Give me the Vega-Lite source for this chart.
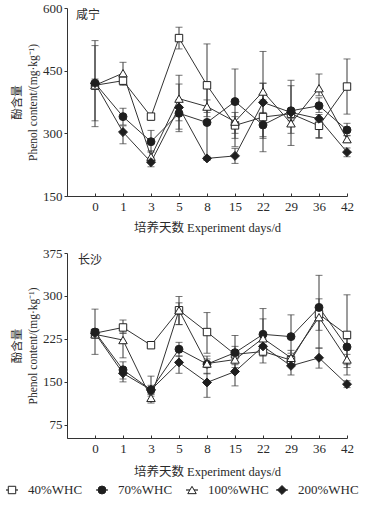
{
  "$schema": "https://vega.github.io/schema/vega-lite/v6.json",
  "padding": {"left": 3, "top": 2, "right": 3, "bottom": 3},
  "background": "white",
  "config": {
    "font": "Liberation Serif",
    "view": {"stroke": null},
    "axis": {"labelFont": "Liberation Serif", "labelFontSize": 13, "labelColor": "#2a2a2a", "titleFont": "Liberation Serif, Noto Sans CJK SC", "titleColor": "#2a2a2a", "titleFontWeight": "normal", "domainColor": "#333", "tickColor": "#333", "grid": false},
    "title": {"font": "Noto Sans CJK SC", "fontSize": 12, "fontWeight": "normal", "color": "#2a2a2a"}
  },
  "datasets": {
    "xn": [
      {"day": "0", "trt": "40%WHC", "v": 415, "lo": 330, "hi": 510},
      {"day": "0", "trt": "70%WHC", "v": 420, "lo": 316, "hi": 522},
      {"day": "0", "trt": "100%WHC", "v": 415, "lo": 405, "hi": 425},
      {"day": "0", "trt": "200%WHC", "v": 420, "lo": 410, "hi": 430},
      {"day": "1", "trt": "40%WHC", "v": 426, "lo": 415, "hi": 437},
      {"day": "1", "trt": "70%WHC", "v": 340, "lo": 320, "hi": 360},
      {"day": "1", "trt": "100%WHC", "v": 444, "lo": 420, "hi": 470},
      {"day": "1", "trt": "200%WHC", "v": 303, "lo": 275, "hi": 318},
      {"day": "3", "trt": "40%WHC", "v": 340, "lo": 333, "hi": 347},
      {"day": "3", "trt": "70%WHC", "v": 280, "lo": 255, "hi": 307},
      {"day": "3", "trt": "100%WHC", "v": 244, "lo": 230, "hi": 258},
      {"day": "3", "trt": "200%WHC", "v": 231, "lo": 220, "hi": 242},
      {"day": "5", "trt": "40%WHC", "v": 528, "lo": 502, "hi": 554},
      {"day": "5", "trt": "70%WHC", "v": 348, "lo": 304, "hi": 418},
      {"day": "5", "trt": "100%WHC", "v": 383, "lo": 330, "hi": 439},
      {"day": "5", "trt": "200%WHC", "v": 362, "lo": 310, "hi": 380},
      {"day": "8", "trt": "40%WHC", "v": 415, "lo": 340, "hi": 514},
      {"day": "8", "trt": "70%WHC", "v": 326, "lo": 240, "hi": 410},
      {"day": "8", "trt": "100%WHC", "v": 364, "lo": 350, "hi": 380},
      {"day": "8", "trt": "200%WHC", "v": 240, "lo": 235, "hi": 245},
      {"day": "15", "trt": "40%WHC", "v": 319, "lo": 288, "hi": 350},
      {"day": "15", "trt": "70%WHC", "v": 376, "lo": 300, "hi": 454},
      {"day": "15", "trt": "100%WHC", "v": 328, "lo": 268, "hi": 340},
      {"day": "15", "trt": "200%WHC", "v": 246, "lo": 228, "hi": 264},
      {"day": "22", "trt": "40%WHC", "v": 339, "lo": 256, "hi": 420},
      {"day": "22", "trt": "70%WHC", "v": 320, "lo": 288, "hi": 350},
      {"day": "22", "trt": "100%WHC", "v": 400, "lo": 380, "hi": 496},
      {"day": "22", "trt": "200%WHC", "v": 374, "lo": 292, "hi": 420},
      {"day": "29", "trt": "40%WHC", "v": 347, "lo": 330, "hi": 427},
      {"day": "29", "trt": "70%WHC", "v": 354, "lo": 300, "hi": 414},
      {"day": "29", "trt": "100%WHC", "v": 324, "lo": 271, "hi": 335},
      {"day": "29", "trt": "200%WHC", "v": 350, "lo": 340, "hi": 360},
      {"day": "36", "trt": "40%WHC", "v": 318, "lo": 288, "hi": 330},
      {"day": "36", "trt": "70%WHC", "v": 366, "lo": 350, "hi": 385},
      {"day": "36", "trt": "100%WHC", "v": 408, "lo": 390, "hi": 442},
      {"day": "36", "trt": "200%WHC", "v": 335, "lo": 290, "hi": 345},
      {"day": "42", "trt": "40%WHC", "v": 412, "lo": 346, "hi": 478},
      {"day": "42", "trt": "70%WHC", "v": 308, "lo": 295, "hi": 324},
      {"day": "42", "trt": "100%WHC", "v": 286, "lo": 278, "hi": 294},
      {"day": "42", "trt": "200%WHC", "v": 255, "lo": 244, "hi": 265}
    ],
    "cs": [
      {"day": "0", "trt": "40%WHC", "v": 235, "lo": 228, "hi": 242},
      {"day": "0", "trt": "70%WHC", "v": 237, "lo": 198, "hi": 277},
      {"day": "0", "trt": "100%WHC", "v": 233, "lo": 226, "hi": 240},
      {"day": "0", "trt": "200%WHC", "v": 235, "lo": 228, "hi": 242},
      {"day": "1", "trt": "40%WHC", "v": 245, "lo": 235, "hi": 258},
      {"day": "1", "trt": "70%WHC", "v": 171, "lo": 150, "hi": 185},
      {"day": "1", "trt": "100%WHC", "v": 223, "lo": 192, "hi": 235},
      {"day": "1", "trt": "200%WHC", "v": 165, "lo": 155, "hi": 175},
      {"day": "3", "trt": "40%WHC", "v": 214, "lo": 209, "hi": 219},
      {"day": "3", "trt": "70%WHC", "v": 136, "lo": 125, "hi": 160},
      {"day": "3", "trt": "100%WHC", "v": 122, "lo": 113, "hi": 130},
      {"day": "3", "trt": "200%WHC", "v": 136, "lo": 128, "hi": 144},
      {"day": "5", "trt": "40%WHC", "v": 275, "lo": 250, "hi": 299},
      {"day": "5", "trt": "70%WHC", "v": 207, "lo": 195, "hi": 219},
      {"day": "5", "trt": "100%WHC", "v": 275, "lo": 250, "hi": 288},
      {"day": "5", "trt": "200%WHC", "v": 184, "lo": 165, "hi": 195},
      {"day": "8", "trt": "40%WHC", "v": 237, "lo": 200, "hi": 271},
      {"day": "8", "trt": "70%WHC", "v": 181, "lo": 164, "hi": 195},
      {"day": "8", "trt": "100%WHC", "v": 182, "lo": 175, "hi": 190},
      {"day": "8", "trt": "200%WHC", "v": 149, "lo": 123, "hi": 165},
      {"day": "15", "trt": "40%WHC", "v": 198, "lo": 185, "hi": 212},
      {"day": "15", "trt": "70%WHC", "v": 201, "lo": 190, "hi": 231},
      {"day": "15", "trt": "100%WHC", "v": 189, "lo": 175, "hi": 200},
      {"day": "15", "trt": "200%WHC", "v": 168, "lo": 143, "hi": 180},
      {"day": "22", "trt": "40%WHC", "v": 203, "lo": 183, "hi": 215},
      {"day": "22", "trt": "70%WHC", "v": 233, "lo": 210, "hi": 278},
      {"day": "22", "trt": "100%WHC", "v": 226, "lo": 200, "hi": 260},
      {"day": "22", "trt": "200%WHC", "v": 212, "lo": 195, "hi": 225},
      {"day": "29", "trt": "40%WHC", "v": 188, "lo": 180, "hi": 196},
      {"day": "29", "trt": "70%WHC", "v": 229, "lo": 200, "hi": 267},
      {"day": "29", "trt": "100%WHC", "v": 192, "lo": 180, "hi": 205},
      {"day": "29", "trt": "200%WHC", "v": 178, "lo": 162, "hi": 185},
      {"day": "36", "trt": "40%WHC", "v": 268, "lo": 209, "hi": 336},
      {"day": "36", "trt": "70%WHC", "v": 280, "lo": 260, "hi": 295},
      {"day": "36", "trt": "100%WHC", "v": 263, "lo": 240, "hi": 280},
      {"day": "36", "trt": "200%WHC", "v": 192, "lo": 174, "hi": 209},
      {"day": "42", "trt": "40%WHC", "v": 232, "lo": 175, "hi": 302},
      {"day": "42", "trt": "70%WHC", "v": 211, "lo": 162, "hi": 225},
      {"day": "42", "trt": "100%WHC", "v": 189, "lo": 180, "hi": 198},
      {"day": "42", "trt": "200%WHC", "v": 146, "lo": 140, "hi": 152}
    ],
    "leg": [
      {"trt": "40%WHC"},
      {"trt": "70%WHC"},
      {"trt": "100%WHC"},
      {"trt": "200%WHC"}
    ]
  },
  "vconcat": [
    {
      "width": 280,
      "height": 188,
      "title": {"text": "咸宁", "anchor": "start", "frame": "group", "dx": 9, "dy": 20, "offset": 0},
      "data": {"name": "xn"},
      "encoding": {
        "x": {"field": "day", "type": "ordinal", "scale": {"type": "point", "domain": ["", "0", "1", "3", "5", "8", "15", "22", "29", "36", "42"], "padding": 0},
          "axis": {"title": "培养天数 Experiment days/d", "titleFontSize": 12.5, "labelAngle": 0, "tickSize": -3, "labelPadding": 7, "titlePadding": 8}}
      },
      "layer": [
        {"mark": {"type": "errorbar", "ticks": {"size": 7}, "color": "#3a3a3a", "thickness": 1},
         "encoding": {"y": {"field": "lo", "type": "quantitative", "scale": {"domain": [150, 600], "nice": false, "zero": false},
             "axis": {"title": ["酚含量", "Phenol content/(mg·kg⁻¹)"], "titleFontSize": 11.5, "titleLineHeight": 16, "values": [150, 300, 450, 600], "tickSize": 3, "labelPadding": 2, "titlePadding": 4}},
           "y2": {"field": "hi"}}},
        {"mark": {"type": "line", "color": "#333", "strokeWidth": 1},
         "encoding": {"y": {"field": "v", "type": "quantitative"}, "detail": {"field": "trt"}}},
        {"mark": {"type": "point", "opacity": 1, "stroke": "#222", "strokeWidth": 1},
         "encoding": {"y": {"field": "v", "type": "quantitative"},
           "shape": {"field": "trt", "type": "nominal", "legend": null, "scale": {"domain": ["40%WHC", "70%WHC", "100%WHC", "200%WHC"], "range": ["square", "circle", "triangle-up", "diamond"]}},
           "fill": {"field": "trt", "type": "nominal", "legend": null, "scale": {"domain": ["40%WHC", "70%WHC", "100%WHC", "200%WHC"], "range": ["white", "#1e1e1e", "white", "#1e1e1e"]}},
           "size": {"field": "trt", "type": "nominal", "legend": null, "scale": {"domain": ["40%WHC", "70%WHC", "100%WHC", "200%WHC"], "range": [55, 80, 80, 60]}}}}
      ]
    },
    {
      "spacing": 5,
      "vconcat": [
        {
          "width": 280,
          "height": 185,
          "title": {"text": "长沙", "anchor": "start", "frame": "group", "dx": 11, "dy": 20, "offset": 0},
          "data": {"name": "cs"},
          "encoding": {
            "x": {"field": "day", "type": "ordinal", "scale": {"type": "point", "domain": ["", "0", "1", "3", "5", "8", "15", "22", "29", "36", "42"], "padding": 0},
              "axis": {"title": "培养天数 Experiment days/d", "titleFontSize": 12.5, "labelAngle": 0, "tickSize": -3, "labelPadding": 7, "titlePadding": 10}}
          },
          "layer": [
            {"mark": {"type": "errorbar", "ticks": {"size": 7}, "color": "#3a3a3a", "thickness": 1},
             "encoding": {"y": {"field": "lo", "type": "quantitative", "scale": {"domain": [52, 375], "nice": false, "zero": false},
                 "axis": {"title": ["酚含量", "Phenol content/(mg·kg⁻¹)"], "titleFontSize": 11.5, "titleLineHeight": 16, "values": [75, 150, 225, 300, 375], "tickSize": 3, "labelPadding": 2, "titlePadding": 4}},
               "y2": {"field": "hi"}}},
            {"mark": {"type": "line", "color": "#333", "strokeWidth": 1},
             "encoding": {"y": {"field": "v", "type": "quantitative"}, "detail": {"field": "trt"}}},
            {"mark": {"type": "point", "opacity": 1, "stroke": "#222", "strokeWidth": 1},
             "encoding": {"y": {"field": "v", "type": "quantitative"},
               "shape": {"field": "trt", "type": "nominal", "legend": null, "scale": {"domain": ["40%WHC", "70%WHC", "100%WHC", "200%WHC"], "range": ["square", "circle", "triangle-up", "diamond"]}},
               "fill": {"field": "trt", "type": "nominal", "legend": null, "scale": {"domain": ["40%WHC", "70%WHC", "100%WHC", "200%WHC"], "range": ["white", "#1e1e1e", "white", "#1e1e1e"]}},
               "size": {"field": "trt", "type": "nominal", "legend": null, "scale": {"domain": ["40%WHC", "70%WHC", "100%WHC", "200%WHC"], "range": [55, 80, 80, 60]}}}}
          ]
        },
        {
          "width": 280,
          "height": 12,
          "data": {"name": "leg"},
          "encoding": {
            "x": {"field": "trt", "type": "nominal", "axis": null, "scale": {"type": "point", "domain": ["40%WHC", "70%WHC", "100%WHC", "200%WHC"], "range": [-55, 215], "padding": 0}}
          },
          "layer": [
            {"mark": {"type": "point", "shape": "M-1,0H1", "size": 145, "stroke": "#222", "strokeWidth": 1.2, "fill": null, "opacity": 1}},
            {"mark": {"type": "point", "opacity": 1, "stroke": "#222", "strokeWidth": 1},
             "encoding": {
               "shape": {"field": "trt", "type": "nominal", "legend": null, "scale": {"domain": ["40%WHC", "70%WHC", "100%WHC", "200%WHC"], "range": ["square", "circle", "triangle-up", "diamond"]}},
               "fill": {"field": "trt", "type": "nominal", "legend": null, "scale": {"domain": ["40%WHC", "70%WHC", "100%WHC", "200%WHC"], "range": ["white", "#1e1e1e", "white", "#1e1e1e"]}},
               "size": {"field": "trt", "type": "nominal", "legend": null, "scale": {"domain": ["40%WHC", "70%WHC", "100%WHC", "200%WHC"], "range": [36, 55, 55, 45]}}}},
            {"mark": {"type": "text", "align": "left", "baseline": "middle", "dx": 16, "font": "Liberation Serif", "fontSize": 13, "color": "#2a2a2a"},
             "encoding": {"text": {"field": "trt"}}}
          ]
        }
      ]
    }
  ],
  "spacing": 13,
  "resolve": {"scale": {"y": "independent", "size": "independent"}}
}
